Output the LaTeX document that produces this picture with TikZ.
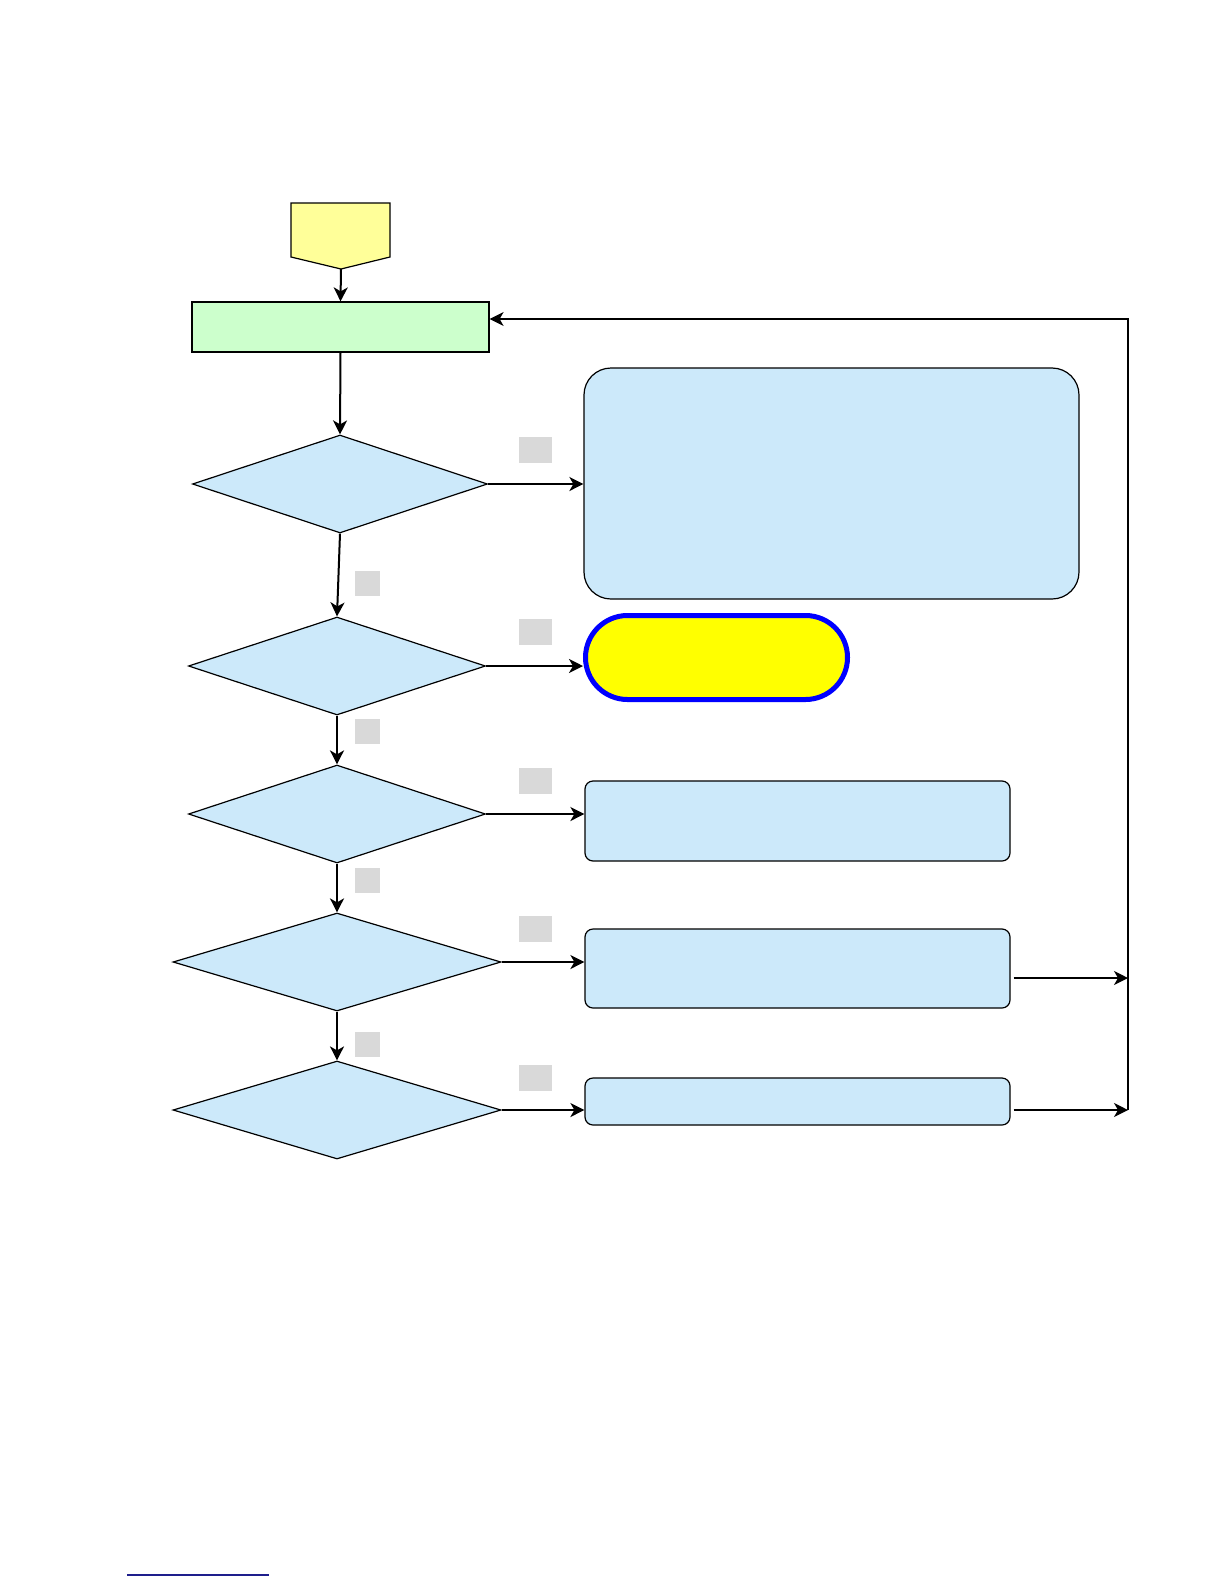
\documentclass[tikz,border=0pt]{standalone}
\usepackage{tikz}
\usetikzlibrary{shapes, arrows.meta, positioning, calc}

\definecolor{pale}{RGB}{255,255,153}
\definecolor{mint}{RGB}{204,255,204}
\definecolor{sky}{RGB}{204,233,250}
\definecolor{chip}{RGB}{217,217,217}
\definecolor{navy}{RGB}{30,30,140}
\definecolor{lemon}{RGB}{255,255,0}
\definecolor{rim}{RGB}{0,0,255}

\begin{document}
\begin{tikzpicture}[
        x=0.5bp, y=-0.5bp,
        proc/.style={rectangle, draw=black, line width=0.6bp, fill=mint, minimum width=148.5bp, minimum height=25bp, inner sep=0pt},
        dec/.style={diamond, draw=black, line width=0.6bp, fill=sky, inner sep=0pt, minimum width=148.5bp, minimum height=49bp},
        note/.style={rectangle, draw=black, line width=0.6bp, fill=sky, minimum width=212.5bp, inner sep=0pt, rounded corners=4bp},
        term/.style={rectangle, draw=rim, line width=2.5bp, fill=lemon, minimum width=131bp, minimum height=42bp, inner sep=0pt, rounded corners=21bp},
        tag/.style={rectangle, fill=chip, inner sep=0pt},
        flow/.style={-{Stealth[length=7bp, width=7bp, inset=2bp]}, line width=1bp, draw=black},
        back/.style={-{Stealth[length=7bp, width=7bp, inset=2bp]}, line width=0.6bp, draw=black}
    ]
        \useasboundingbox (0,0) rectangle (1224,1584);
        % start
        \draw[fill=pale, line width=0.6bp] (291,203) -- (390,203) -- (390,257) -- (341,269) -- (291,257) -- cycle;
        \coordinate (start) at (341,269);
        \node[proc] (init) at (340.5,327) {};
        % decisions
        \node[dec, minimum width=147.5bp] (d1) at (340,484) {};
        \node[dec] (d2) at (337,666) {};
        \node[dec] (d3) at (337,814) {};
        \node[dec, minimum width=164bp] (d4) at (337,962) {};
        \node[dec, minimum width=164bp] (d5) at (337,1110) {};
        % outcomes
        \node[note, minimum width=247.5bp, minimum height=115.5bp, rounded corners=13.5bp] (b1) at (831.5,483.5) {};
        \node[term] (stop) at (716.5,657.5) {};
        \node[note, minimum height=40bp] (b3) at (797.5,821) {};
        \node[note, minimum height=39.5bp] (b4) at (797.5,968.5) {};
        \node[note, minimum height=23.5bp] (b5) at (797.5,1101.5) {};
        % branch tags
        \foreach \y [count=\i] in {450,632,780.5,929,1077.5}
            \node[tag, minimum width=16.5bp, minimum height=13bp] (yes\i) at (535.5,\y) {};
        \foreach \y [count=\i] in {583.5,731.5,880.5,1044}
            \node[tag, minimum width=12.5bp, minimum height=12.5bp] (no\i) at (367.5,\y) {};
        % main flow
        \draw[flow] (start) -- (init.north);
        \draw[flow] (init.south) -- (d1.north);
        \draw[flow] (d1.south) -- (d2.north);
        \draw[flow] (d2.south) -- (d3.north);
        \draw[flow] (d3.south) -- (d4.north);
        \draw[flow] (d4.south) -- (d5.north);
        \draw[flow] (d1.east) -- (d1.east -| b1.west);
        \draw[flow] (d2.east) -- (d2.east -| stop.west);
        \draw[flow] (d3.east) -- (d3.east -| b3.west);
        \draw[flow] (d4.east) -- (d4.east -| b4.west);
        \draw[flow] (d5.east) -- (d5.east -| b5.west);
        % loop back
        \coordinate (loop) at (1128,319);
        \coordinate (j4) at (1128,978);
        \coordinate (j5) at (1128,1110);
        \draw[back] ([xshift=1.5bp]b4.east |- j4) -- (j4);
        \draw[back] ([xshift=1.5bp]b5.east |- j5) -- (j5);
        \draw[back] (j5) -- (loop) -- (init.east |- loop);
        % footer rule
        \draw[navy, line width=0.6bp] (127,1575) -- (269,1575);
    \end{tikzpicture}
\end{document}
